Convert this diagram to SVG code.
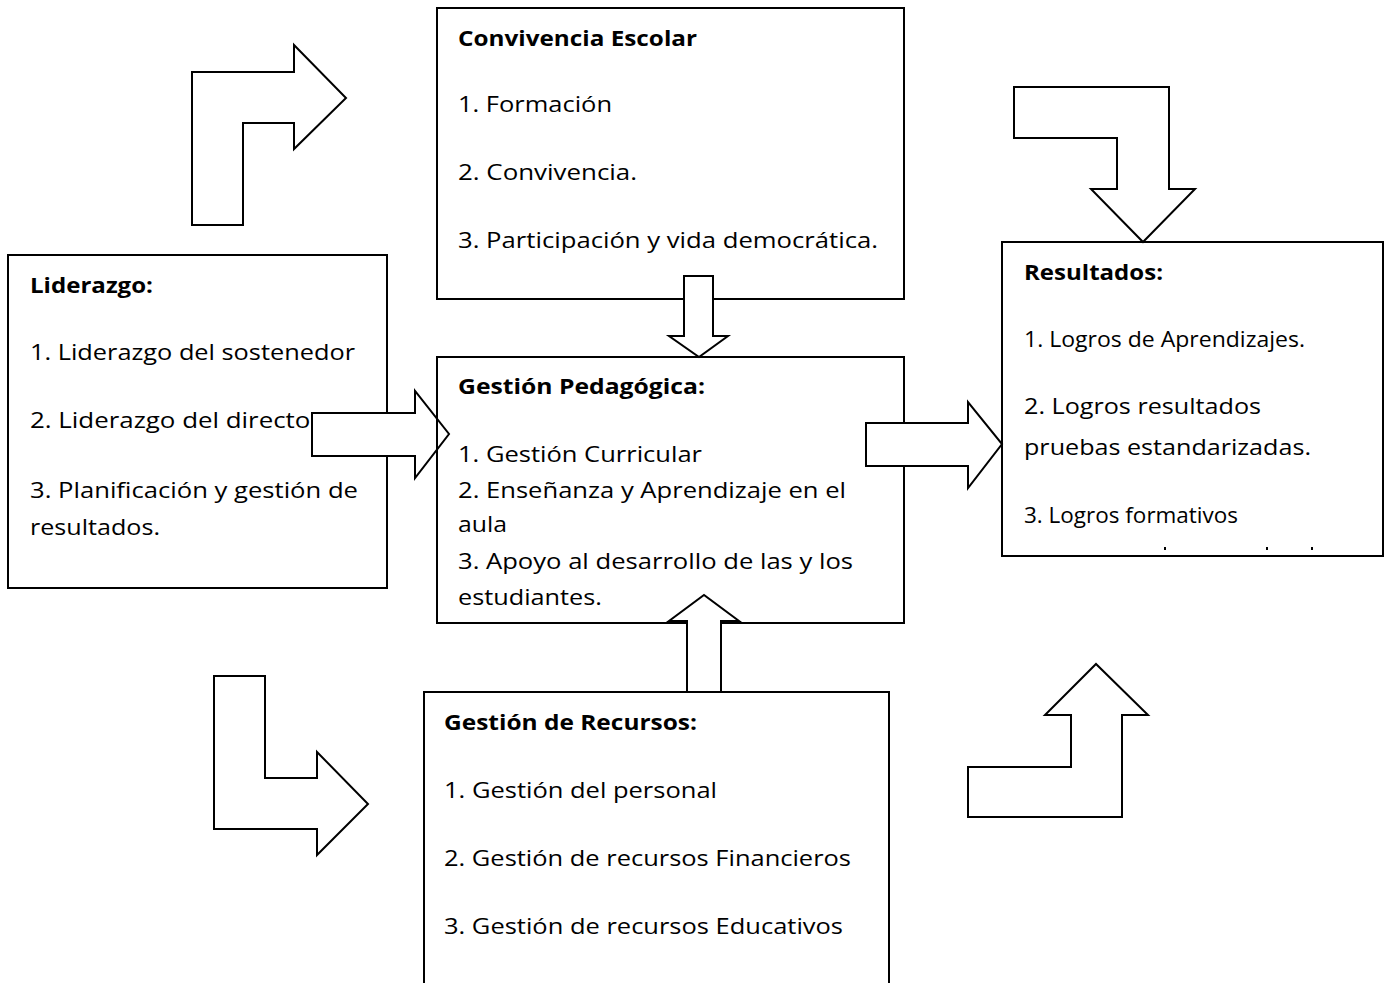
<svg xmlns="http://www.w3.org/2000/svg" width="1392" height="983" viewBox="0 0 1392 983">
<style>
.box{fill:#fff;stroke:#000;stroke-width:2}
.edge{fill:none;stroke:#000;stroke-width:2}
.arr{fill:#fff;stroke:#000;stroke-width:2;stroke-linejoin:miter}
text{font-family:"Open Sans","Noto Sans","DejaVu Sans",sans-serif;font-size:21px;fill:#000}
.b{font-weight:bold}
</style>
<rect width="1392" height="983" fill="#fff"/>
<g id="convivencia">
<rect class="box" x="437" y="8" width="467" height="291"/>
<text class="b" x="458" y="46" textLength="239" lengthAdjust="spacingAndGlyphs">Convivencia Escolar</text>
<text x="458" y="112" textLength="154" lengthAdjust="spacingAndGlyphs">1. Formación</text>
<text x="458" y="180" textLength="179" lengthAdjust="spacingAndGlyphs">2. Convivencia.</text>
<text x="458" y="248" textLength="420" lengthAdjust="spacingAndGlyphs">3. Participación y vida democrática.</text>
</g>
<g id="liderazgo">
<rect class="box" x="8" y="255" width="379" height="333"/>
<text class="b" x="30" y="293" textLength="123" lengthAdjust="spacingAndGlyphs">Liderazgo:</text>
<text x="30" y="360" textLength="325" lengthAdjust="spacingAndGlyphs">1. Liderazgo del sostenedor</text>
<text x="30" y="428" textLength="291" lengthAdjust="spacingAndGlyphs">2. Liderazgo del director</text>
<text x="30" y="498" textLength="328" lengthAdjust="spacingAndGlyphs">3. Planificación y gestión de</text>
<text x="30" y="535" textLength="130" lengthAdjust="spacingAndGlyphs">resultados.</text>
</g>
<g id="resultados">
<rect class="box" x="1002" y="242" width="381" height="314"/>
<text class="b" x="1024" y="280" textLength="139" lengthAdjust="spacingAndGlyphs">Resultados:</text>
<text x="1024" y="347" textLength="281" lengthAdjust="spacingAndGlyphs">1. Logros de Aprendizajes.</text>
<text x="1024" y="414" textLength="237" lengthAdjust="spacingAndGlyphs">2. Logros resultados</text>
<text x="1024" y="455" textLength="287" lengthAdjust="spacingAndGlyphs">pruebas estandarizadas.</text>
<text x="1024" y="523" textLength="214" lengthAdjust="spacingAndGlyphs">3. Logros formativos</text>
<rect x="1164" y="547" width="2" height="3" fill="#000"/>
<rect x="1266" y="547" width="2" height="3" fill="#000"/>
<rect x="1311" y="547" width="2" height="3" fill="#000"/>
</g>
<g id="gestion-pedagogica">
<rect class="box" x="437" y="357" width="467" height="266"/>
<text class="b" x="458" y="394" textLength="247" lengthAdjust="spacingAndGlyphs">Gestión Pedagógica:</text>
<text x="458" y="462" textLength="244" lengthAdjust="spacingAndGlyphs">1. Gestión Curricular</text>
<text x="458" y="498" textLength="388" lengthAdjust="spacingAndGlyphs">2. Enseñanza y Aprendizaje en el</text>
<text x="458" y="532" textLength="49" lengthAdjust="spacingAndGlyphs">aula</text>
<text x="458" y="569" textLength="395" lengthAdjust="spacingAndGlyphs">3. Apoyo al desarrollo de las y los</text>
<text x="458" y="605" textLength="144" lengthAdjust="spacingAndGlyphs">estudiantes.</text>
</g>
<g id="gestion-recursos">
<path class="box" d="M424,990 V692 H889 V990"/>
<text class="b" x="444" y="730" textLength="253" lengthAdjust="spacingAndGlyphs">Gestión de Recursos:</text>
<text x="444" y="798" textLength="273" lengthAdjust="spacingAndGlyphs">1. Gestión del personal</text>
<text x="444" y="866" textLength="407" lengthAdjust="spacingAndGlyphs">2. Gestión de recursos Financieros</text>
<text x="444" y="934" textLength="399" lengthAdjust="spacingAndGlyphs">3. Gestión de recursos Educativos</text>
</g>
<g id="connectors">
<polygon class="arr" points="192,225 192,72 294,72 294,45 346,98 294,149 294,123 243,123 243,225"/>
<polygon class="arr" points="1014,87 1169,87 1169,189 1195,189 1143,242 1091,189 1117,189 1117,138 1014,138"/>
<polygon class="arr" points="214,676 265,676 265,778 317,778 317,752 368,804 317,855 317,829 214,829"/>
<polygon class="arr" points="968,817 968,767 1071,767 1071,715 1045,715 1096,664 1148,715 1122,715 1122,817"/>
<polygon class="arr" points="684,276 713,276 713,336 728,336 699,357 669,336 684,336"/>
<polygon class="arr" points="687,692 687,621 669,621 704,595 739,621 721,621 721,692"/>
<polygon class="arr" points="312,413 415,413 415,391 449,434 415,478 415,456 312,456"/>
<line class="edge" x1="437" y1="380" x2="437" y2="490"/>
<polygon class="arr" points="866,423 968,423 968,402 1002,444 968,488 968,466 866,466"/>
<line class="edge" x1="424" y1="692" x2="889" y2="692"/>
</g>
</svg>
